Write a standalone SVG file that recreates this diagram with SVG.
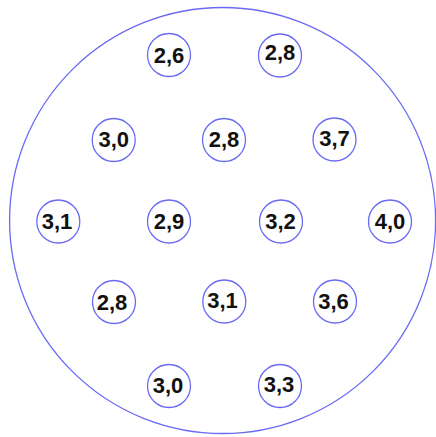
<svg xmlns="http://www.w3.org/2000/svg" width="436" height="437" viewBox="0 0 436 437">
<style>
.c{fill:#fff;stroke:#6a6af5;stroke-width:1.3}
.t{font-family:"Liberation Sans",Arial,sans-serif;font-weight:bold;font-size:22px;fill:#111;text-anchor:middle}
</style>
<rect width="436" height="437" fill="#fff"/>
<g id="outer"><circle cx="222.6" cy="220.5" r="213" fill="none" stroke="#6a6af5" stroke-width="1.3"/></g>
<g id="connectors"></g>
<g id="n1"><circle class="c" cx="169" cy="55" r="21.5"/><text class="t" x="169" y="62.5">2,6</text></g>
<g id="n2"><circle class="c" cx="280" cy="55.5" r="21.5"/><text class="t" x="280" y="60">2,8</text></g>
<g id="n3"><circle class="c" cx="113.7" cy="140" r="21.5"/><text class="t" x="113.7" y="147">3,0</text></g>
<g id="n4"><circle class="c" cx="224" cy="140" r="21.5"/><text class="t" x="224" y="147">2,8</text></g>
<g id="n5"><circle class="c" cx="334.5" cy="139.5" r="21.5"/><text class="t" x="334.5" y="146">3,7</text></g>
<g id="n6"><circle class="c" cx="58.3" cy="221.5" r="21.5"/><text class="t" x="57" y="229">3,1</text></g>
<g id="n7"><circle class="c" cx="169" cy="221.5" r="21.5"/><text class="t" x="169" y="229">2,9</text></g>
<g id="n8"><circle class="c" cx="281" cy="221.5" r="21.5"/><text class="t" x="280.5" y="228.5">3,2</text></g>
<g id="n9"><circle class="c" cx="390" cy="221.5" r="21.5"/><text class="t" x="390" y="228.5">4,0</text></g>
<g id="n10"><circle class="c" cx="114" cy="302" r="21.5"/><text class="t" x="112" y="309.5">2,8</text></g>
<g id="n11"><circle class="c" cx="224.3" cy="301.5" r="21.5"/><text class="t" x="222.5" y="308">3,1</text></g>
<g id="n12"><circle class="c" cx="335" cy="301.5" r="21.5"/><text class="t" x="333.5" y="308.5">3,6</text></g>
<g id="n13"><circle class="c" cx="169" cy="386" r="21.5"/><text class="t" x="168" y="393">3,0</text></g>
<g id="n14"><circle class="c" cx="280" cy="386" r="21.5"/><text class="t" x="279" y="391.5">3,3</text></g>
</svg>
